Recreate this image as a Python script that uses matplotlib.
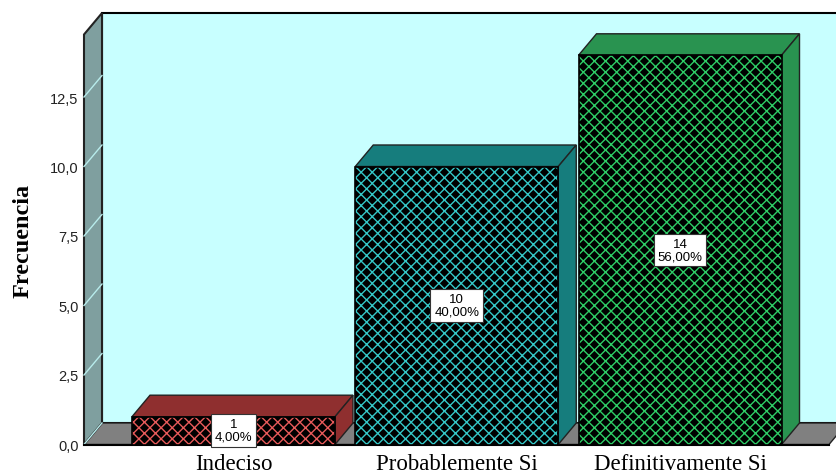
import matplotlib
matplotlib.use('Agg')
import matplotlib.pyplot as plt

categories = ['Indeciso', 'Probablemente Si', 'Definitivamente Si']
counts = [1, 10, 14]
percents = ['4,00%', '40,00%', '56,00%']
y_ticks = [0, 2.5, 5, 7.5, 10, 12.5]
y_tick_labels = ['0,0', '2,5', '5,0', '7,5', '10,0', '12,5']

face_colors = ['#8f2f2f', '#167d7d', '#299350']
hatch_colors = ['#e85a5a', '#35c8c8', '#2ecc66']

# axes pixels per unit, used to turn the 3D depth into data units
px_x = 223.25
px_y = 27.8
dx = 18 / px_x
dy = 21.5 / px_y
bar_w = 203 / px_x

plt.rcParams['hatch.linewidth'] = 1.0

fig = plt.figure(figsize=(8.36, 4.77), dpi=100)
ax = fig.add_axes([84 / 836, 31.5 / 477, 745 / 836, 410 / 477])
x0, x1 = (84 - 233.5) / px_x, (829 - 233.5) / px_x
y1 = 410 / px_y
ax.set_xlim(x0, x1)
ax.set_ylim(0, y1)

# back wall, floor and left wall
ax.fill([x0 + dx, x1 + dx, x1 + dx, x0 + dx], [dy, dy, y1 + dy, y1 + dy],
        color='#c8ffff', ec='black', lw=1.5, clip_on=False, zorder=1)
ax.fill([x0, x1, x1 + dx, x0 + dx], [0, 0, dy, dy],
        fc='#808080', ec='#222222', lw=1, clip_on=False, zorder=2)
ax.fill([x0, x0 + dx, x0 + dx, x0], [0, dy, y1 + dy, y1],
        fc='#7f9f9f', ec='#222222', lw=1.5, clip_on=False, zorder=2)
for t in y_ticks:
    ax.plot([x0, x0 + dx], [t, t + dy], color='#b8ecec', lw=1, clip_on=False, zorder=3)

for i, v in enumerate(counts):
    left = i - bar_w / 2
    right = i + bar_w / 2
    ax.fill([left, right, right + dx, left + dx], [v, v, v + dy, v + dy],
            fc=face_colors[i], ec='#222222', lw=1, clip_on=False, zorder=4)
    ax.fill([right, right + dx, right + dx, right], [0, dy, v + dy, v],
            fc=face_colors[i], ec='#222222', lw=1, clip_on=False, zorder=4)
    ax.bar(i, v, width=bar_w, color='black', edgecolor=hatch_colors[i], hatch='xxx',
           linewidth=0, zorder=5)
    ax.bar(i, v, width=bar_w, fill=False, edgecolor='black', linewidth=1.2, zorder=6)
    ax.text(i, v / 2, f'{v}\n{percents[i]}', ha='center', va='center', fontsize=9.5,
            family='Liberation Sans', linespacing=1.05, zorder=7,
            bbox=dict(boxstyle='square,pad=0.3', fc='white', ec='#333333', lw=0.8))

ax.set_xticks(range(len(categories)))
ax.set_xticklabels(categories, family='Liberation Serif', fontsize=16.5)
ax.set_yticks(y_ticks)
ax.set_yticklabels(y_tick_labels, family='Liberation Sans', fontsize=10.5, color='#222222')
ax.tick_params(length=0, pad=4)
ax.tick_params(axis='x', pad=6)
ax.set_ylabel('Frecuencia', family='Liberation Serif', fontweight='bold', fontsize=17.5)
ax.yaxis.set_label_coords(-50 / 745, (445 - 240) / 410)
for side in ['top', 'right', 'left']:
    ax.spines[side].set_visible(False)
ax.spines['bottom'].set_zorder(3)
ax.spines['bottom'].set_linewidth(1.5)
ax.set_facecolor('none')

fig.savefig('out.png', dpi=100)
